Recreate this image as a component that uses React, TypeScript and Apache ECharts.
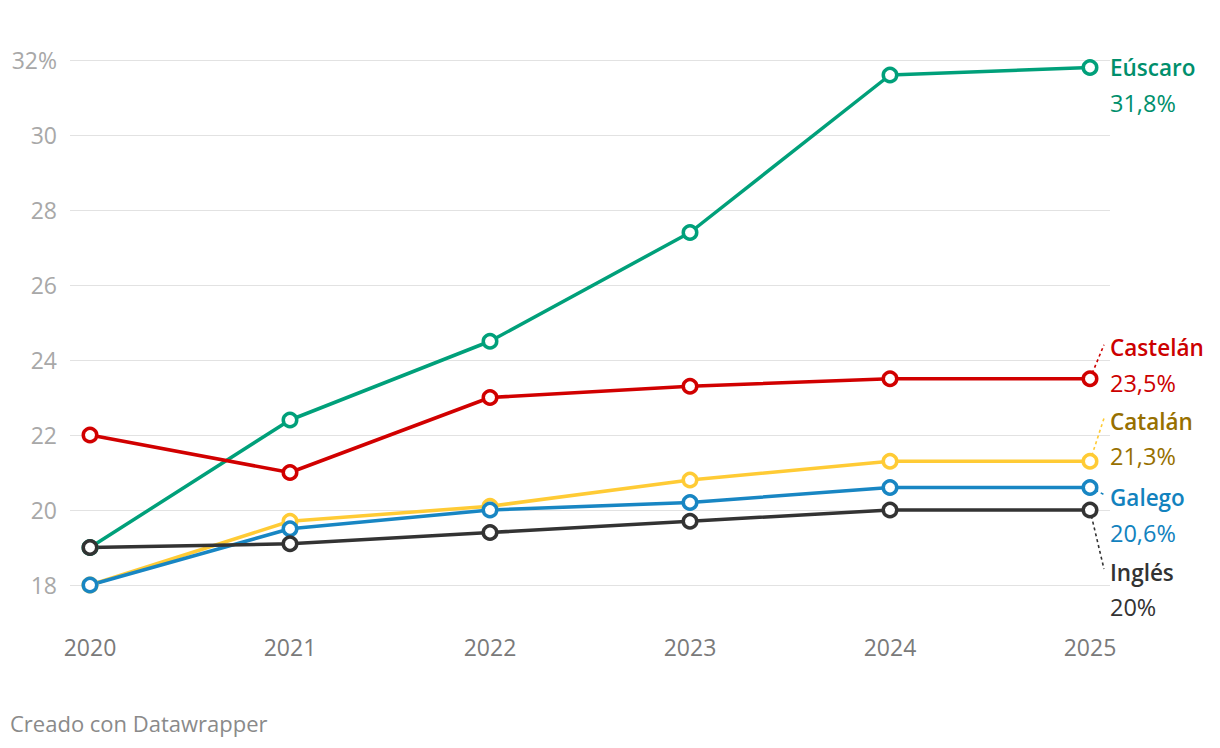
import React, { useEffect, useRef } from "react";
import * as echarts from "echarts";

const years = [2020, 2021, 2022, 2023, 2024, 2025];
const euscaro = [19, 22.4, 24.5, 27.4, 31.6, 31.8];
const castelan = [22, 21, 23, 23.3, 23.5, 23.5];
const catalan = [18, 19.7, 20.1, 20.8, 21.3, 21.3];
const galego = [18, 19.5, 20, 20.2, 20.6, 20.6];
const ingles = [19, 19.1, 19.4, 19.7, 20, 20];
const yTicks = [18, 20, 22, 24, 26, 28, 30, 32];

const seriesDefs = [
  { name: "Eúscaro", values: euscaro, line: "#00a07a", text: "#008f6c", valueText: "31,8%", dy: 0 },
  { name: "Castelán", values: castelan, line: "#d10000", text: "#cc0000", valueText: "23,5%", dy: -31 },
  { name: "Catalán", values: catalan, line: "#ffcb35", text: "#977000", valueText: "21,3%", dy: -40 },
  { name: "Galego", values: galego, line: "#1886c3", text: "#1282be", valueText: "20,6%", dy: 10 },
  { name: "Inglés", values: ingles, line: "#333333", text: "#333333", valueText: "20%", dy: 62 },
];

const FONT = "'Open Sans', 'Noto Sans', sans-serif";

export default function App() {
  const ref = useRef<HTMLDivElement>(null);
  useEffect(() => {
    if (!ref.current) return;
    const chart = echarts.init(ref.current, null, { renderer: "svg" });
    const option: any = {
      animation: false,
      backgroundColor: "#ffffff",
      textStyle: { fontFamily: FONT },
      grid: { left: 70, right: 110, top: 60, bottom: 163, containLabel: false },
      xAxis: {
        type: "value",
        min: 2019.9,
        max: 2025.1,
        axisLine: { show: false },
        axisTick: { show: false },
        splitLine: { show: false },
        axisLabel: {
          customValues: years,
          color: "#7a7a7a",
          fontSize: 23,
          margin: 50,
          fontFamily: FONT,
          formatter: (v: number) => String(v),
        },
      },
      yAxis: {
        type: "value",
        min: 18,
        max: 32,
        interval: 2,
        axisLine: { show: false },
        axisTick: { show: false },
        splitLine: { lineStyle: { color: "#e2e2e2", width: 1 } },
        axisLabel: {
          color: "#a8a8a8",
          fontSize: 23,
          margin: 13,
          fontFamily: FONT,
          formatter: (v: number) => (v === yTicks[yTicks.length - 1] ? v + "%" : String(v)),
        },
      },
      series: seriesDefs.map((s) => ({
        name: s.name,
        type: "line",
        clip: false,
        data: years.map((y, i) => [y, s.values[i]]),
        symbol: "circle",
        symbolSize: 13.5,
        lineStyle: { color: s.line, width: 3.5 },
        itemStyle: { color: "#ffffff", borderColor: s.line, borderWidth: 3.5 },
        z: 3,
      })),
    };
    chart.setOption(option);

    const graphics: any[] = [];
    seriesDefs.forEach((s) => {
      const last = years.length - 1;
      const p = chart.convertToPixel({ gridIndex: 0 }, [years[last], s.values[last]]) as number[];
      const lx = p[0] + 20;
      const ny = p[1] + s.dy;
      if (s.dy !== 0) {
        graphics.push({
          type: "line",
          z: 1,
          shape: { x1: p[0], y1: p[1], x2: lx - 6, y2: ny - 3 },
          style: { stroke: s.line === "#ffcb35" ? "#ffcb35" : s.text, lineWidth: 1.6, lineDash: [3, 3] },
        });
      }
      graphics.push({
        type: "text",
        z: 10,
        style: {
          text: s.name,
          x: lx,
          y: ny,
          fill: s.text,
          font: `600 22.5px ${FONT}`,
          align: "left",
          verticalAlign: "middle",
        },
      });
      graphics.push({
        type: "text",
        z: 10,
        style: {
          text: s.valueText,
          x: lx,
          y: ny + 35,
          fill: s.text,
          font: `23.5px ${FONT}`,
          align: "left",
          verticalAlign: "middle",
        },
      });
    });
    graphics.push({
      type: "text",
      z: 10,
      style: {
        text: "Creado con Datawrapper",
        x: 10,
        y: 723,
        fill: "#8a8a8a",
        font: `22px ${FONT}`,
        align: "left",
        verticalAlign: "middle",
      },
    });
    chart.setOption({ graphic: graphics });

    return () => chart.dispose();
  }, []);
  return (
    <div
      ref={ref}
      style={{ position: "fixed", left: 0, top: 0, width: 1220, height: 748, background: "#fff" }}
    />
  );
}
